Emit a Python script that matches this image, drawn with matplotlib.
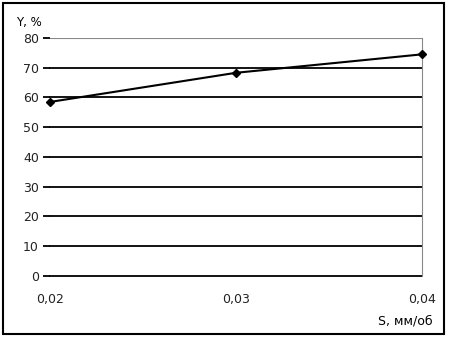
import matplotlib.pyplot as plt

x_vals = [0.02, 0.03, 0.04]
y_vals = [58.5, 68.3, 74.5]
x_ticks = [0.02, 0.03, 0.04]
x_labels = ["0,02", "0,03", "0,04"]
y_ticks = [0, 10, 20, 30, 40, 50, 60, 70, 80]

fig = plt.figure(figsize=(4.51, 3.42), dpi=100)
# outer frame round the whole picture
fig.patches.append(plt.Rectangle((0.006, 0.022), 0.978, 0.97, transform=fig.transFigure,
                                 fill=False, edgecolor="black", linewidth=1.5))

ax = fig.add_axes([0.111, 0.193, 0.825, 0.696])
ax.set_xlim(0.02, 0.04)
ax.set_ylim(0, 80)

# horizontal gridlines, black, top one grey
for y in y_ticks[:-1]:
    ax.axhline(y, color="black", linewidth=1.3, zorder=1, clip_on=False)
ax.axhline(80, color="#888888", linewidth=0.8, zorder=1)

ax.plot(x_vals, y_vals, color="black", linewidth=1.5, marker="D",
        markersize=4, zorder=3, clip_on=False)

for s in ["left", "top", "bottom"]:
    ax.spines[s].set_visible(False)
ax.spines["right"].set_color("#888888")
ax.spines["right"].set_linewidth(0.8)

ax.set_yticks(y_ticks)
ax.set_yticklabels([str(v) for v in y_ticks], fontsize=9, color="#222222")
ax.tick_params(axis="y", length=5, width=1.3, pad=3)
ax.set_xticks(x_ticks)
ax.set_xticklabels(x_labels, fontsize=9, color="#222222")
ax.tick_params(axis="x", length=0, pad=12)

fig.text(0.035, 0.915, "Y, %", fontsize=8.5, va="bottom")
fig.text(0.96, 0.05, "S, мм/об", fontsize=9, ha="right")

fig.savefig("out.png", dpi=100)
